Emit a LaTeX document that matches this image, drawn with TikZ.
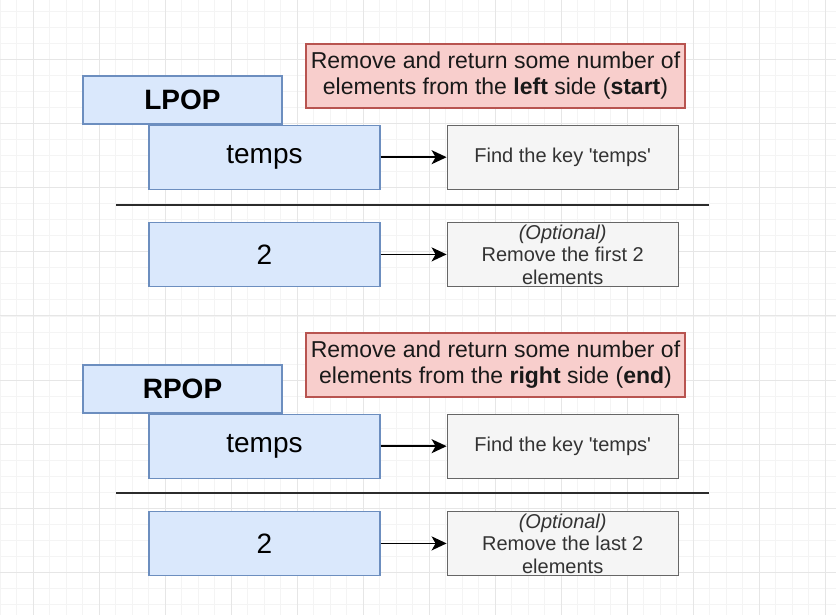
\documentclass[tikz,border=0pt]{standalone}
\usepackage{fontspec}
\setmainfont{Liberation Sans}
\usepackage{xcolor}
\usetikzlibrary{arrows.meta, positioning}

\definecolor{blueFill}{HTML}{DAE8FC}
\definecolor{blueLine}{HTML}{6C8EBF}
\definecolor{redFill}{HTML}{F8CECC}
\definecolor{redLine}{HTML}{B85450}
\definecolor{grayFill}{HTML}{F5F5F5}
\definecolor{grayLine}{HTML}{666666}
\definecolor{grayText}{HTML}{333333}
\definecolor{darkLine}{HTML}{2B2B2B}
\definecolor{gridMinor}{HTML}{F4F4F4}
\definecolor{gridMajor}{HTML}{E6E6E6}

\begin{document}
\begin{tikzpicture}[x=1pt, y=-1pt, node distance=32pt and 66pt,
  cmdbox/.style={rectangle, draw=blueLine, fill=blueFill, line width=1.2pt, minimum width=199pt, minimum height=48pt, inner sep=0pt, font=\fontsize{28}{32}\selectfont\bfseries},
  argbox/.style={rectangle, draw=blueLine, fill=blueFill, line width=1.2pt, minimum width=231pt, minimum height=64pt, inner sep=0pt, font=\fontsize{28}{32}\selectfont},
  notebox/.style={rectangle, draw=redLine, fill=redFill, line width=1.2pt, minimum width=379pt, minimum height=64pt, inner sep=0pt, align=center, text=black!90, font=\fontsize{23}{26}\selectfont},
  descbox/.style={rectangle, draw=grayLine, fill=grayFill, line width=1.2pt, minimum width=231pt, minimum height=64pt, inner sep=0pt, align=center, text=grayText, font=\fontsize{20}{22.5}\selectfont},
  link/.style={-{Stealth[length=15pt, width=14pt, inset=4pt]}, line width=1.6pt, black},
  divider/.style={line width=1.8pt, draw=darkLine}]

\useasboundingbox (0,0) rectangle (836,615);
\fill[white] (0,0) rectangle (836,615);

% Grid
\foreach \i in {0,...,50} \draw[gridMinor, line width=0.6pt] (\i*16.5,0) -- (\i*16.5,615);
\foreach \j in {0,...,37} \draw[gridMinor, line width=0.6pt] (0,10.85+\j*16.05) -- (836,10.85+\j*16.05);
\foreach \i in {0,...,12} \draw[gridMajor, line width=0.8pt] (33+\i*66,0) -- (33+\i*66,615);
\foreach \j in {0,...,8} \draw[gridMajor, line width=0.8pt] (0,59+\j*64.2) -- (836,59+\j*64.2);

% LPOP
\node (lpop) [cmdbox] at (182.5,100) {LPOP};
\node (lnote) [notebox] at (495.5,76) {Remove and return some number of\\elements from the \textbf{left} side (\textbf{start})};
\node (lkey) [argbox, anchor=north west] at ([xshift=66pt]lpop.south west) {temps};
\node (lfind) [descbox, right=of lkey] {Find the key \textquotesingle temps\textquotesingle};
\node (lcount) [argbox, below=of lkey] {2};
\node (lopt) [descbox, right=of lcount] {\textit{(Optional)}\\Remove the first 2\\elements};

\coordinate (ldivA) at (116,205);
\coordinate (ldivB) at (709,205);
\draw[divider] (ldivA) -- (ldivB);

\draw[link] (lkey) -- (lfind);
\draw[link] (lcount) -- (lopt);

% RPOP
\node (rpop) [cmdbox] at (182.5,389) {RPOP};
\node (rnote) [notebox] at (495.5,365) {Remove and return some number of\\elements from the \textbf{right} side (\textbf{end})};
\node (rkey) [argbox, anchor=north west] at ([xshift=66pt]rpop.south west) {temps};
\node (rfind) [descbox, right=of rkey] {Find the key \textquotesingle temps\textquotesingle};
\node (rcount) [argbox, below=of rkey] {2};
\node (ropt) [descbox, right=of rcount] {\textit{(Optional)}\\Remove the last 2\\elements};

\coordinate (rdivA) at (116,493);
\coordinate (rdivB) at (709,493);
\draw[divider] (rdivA) -- (rdivB);

\draw[link] (rkey) -- (rfind);
\draw[link] (rcount) -- (ropt);

\end{tikzpicture}
\end{document}
